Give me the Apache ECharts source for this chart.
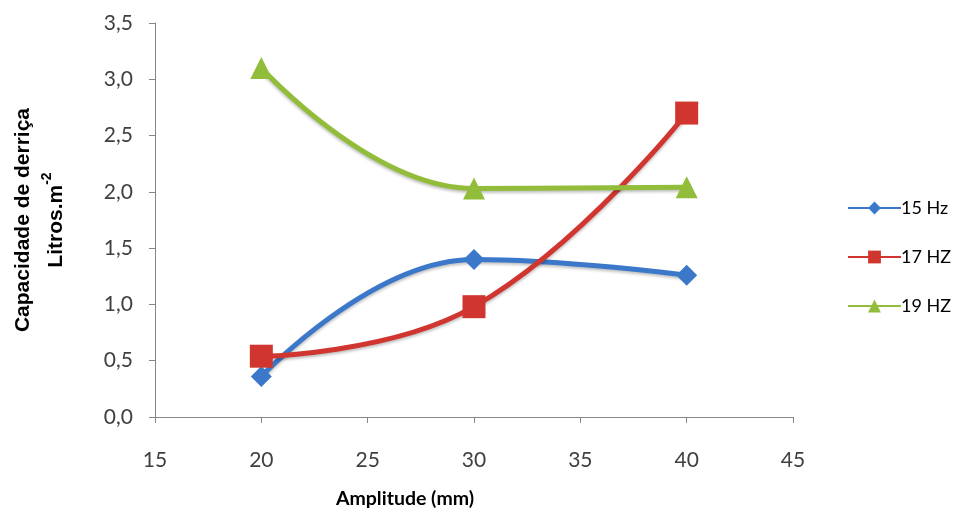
<!DOCTYPE html>
<html><head><meta charset="utf-8">
<script src="https://cdn.jsdelivr.net/npm/echarts@6/dist/echarts.min.js"></script>
<style>html,body{margin:0;padding:0;background:#fff}#c{width:956px;height:511px}</style>
</head><body><div id="c"></div>
<script>
const amplitudes = [20, 30, 40];
const s15 = [0.36, 1.40, 1.26];
const s17 = [0.54, 0.98, 2.70];
const s19 = [3.10, 2.03, 2.04];
const seriesNames = ['15 Hz', '17 HZ', '19 HZ'];
const colors = ['#3B78C9', '#D0362F', '#92BD3A'];

const chart = echarts.init(document.getElementById('c'));
const pair = (vals) => amplitudes.map((x, i) => [x, vals[i]]);
const mk = (name, vals, color, symbol, size) => ({
  name, type: 'line', data: pair(vals), smooth: 0.45,
  symbol, symbolSize: size, showSymbol: true,
  lineStyle: { width: 5, color, shadowColor: 'rgba(0,0,0,0.25)', shadowBlur: 3, shadowOffsetY: 2 },
  itemStyle: { color }
});
chart.setOption({
  animation: false,
  grid: { left: 155, right: 163, top: 23, bottom: 94, containLabel: false, outerBoundsMode: 'none' },
  xAxis: {
    type: 'value', min: 15, max: 45, interval: 5,
    axisLine: { show: true, lineStyle: { color: '#868686' } },
    axisTick: { show: true, length: 6, lineStyle: { color: '#868686' } },
    splitLine: { show: false },
    axisLabel: { color: '#404040', fontFamily: 'Lato', fontSize: 21, margin: 33 }
  },
  yAxis: {
    type: 'value', min: 0, max: 3.5, interval: 0.5,
    axisLine: { show: true, lineStyle: { color: '#868686' } },
    axisTick: { show: true, length: 6, lineStyle: { color: '#868686' } },
    splitLine: { show: false },
    axisLabel: { color: '#404040', fontFamily: 'Lato', fontSize: 21, margin: 22,
      formatter: v => v.toFixed(1).replace('.', ',') },
    name: 'Capacidade de derriça\nLitros.m{sup|-2}',
    nameLocation: 'middle', nameGap: 82, nameRotate: 90,
    nameTextStyle: { fontFamily: 'Liberation Sans', fontWeight: 'bold', fontSize: 21, color: '#000', lineHeight: 33,
      rich: { sup: { fontSize: 14, fontWeight: 'bold', fontFamily: 'Liberation Sans', verticalAlign: 'top', padding: [0,0,12,0], color: '#000' } } }
  },
  title: {
    text: 'Amplitude (mm)', left: 400, top: 484,
    textAlign: 'center',
    textStyle: { fontFamily: 'Lato', fontWeight: 'bold', fontSize: 19.5, color: '#000' }
  },
  legend: {
    orient: 'vertical', left: 842, top: 194, itemGap: 31, itemWidth: 53, itemHeight: 16,
    data: seriesNames,
    textStyle: { fontFamily: 'Lato', fontSize: 18, color: '#000', padding: [0,0,0,-5] }
  },
  series: [
    mk(seriesNames[0], s15, colors[0], 'diamond', 21),
    mk(seriesNames[1], s17, colors[1], 'rect', 23),
    mk(seriesNames[2], s19, colors[2], 'triangle', 22)
  ]
});
</script></body></html>
